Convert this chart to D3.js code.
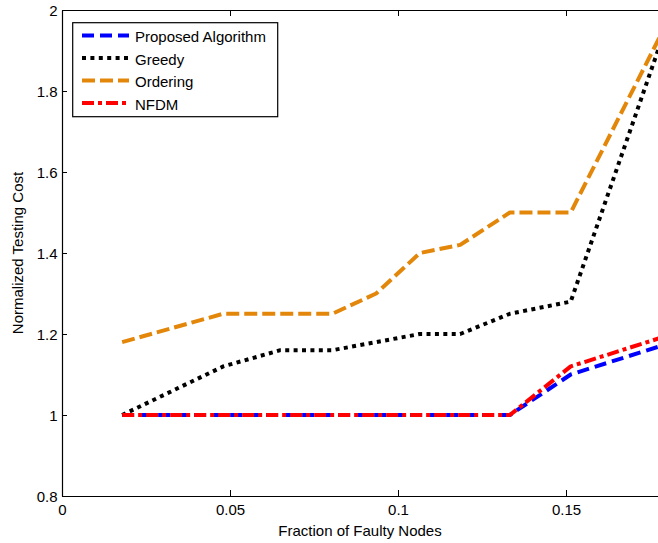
<!DOCTYPE html>
<html>
<head>
<meta charset="utf-8">
<script src="https://cdn.jsdelivr.net/npm/d3@7/dist/d3.min.js"></script>
<style>
  html, body { margin: 0; padding: 0; background: #fff; }
  svg { display: block; font-family: "Liberation Sans", Arial, Helvetica, sans-serif; }
</style>
</head>
<body>
<svg id="chart" width="658" height="543"></svg>
<script>
// ---- data ----
const fraction = [0.0179, 0.048, 0.065, 0.0805, 0.0935, 0.1065, 0.1185, 0.1333, 0.1514, 0.178];
const proposed = [1.00, 1.00, 1.00, 1.00, 1.00, 1.00, 1.00, 1.00, 1.10, 1.17];
const greedy   = [1.00, 1.12, 1.16, 1.16, 1.18, 1.20, 1.20, 1.25, 1.28, 1.915];
const ordering = [1.18, 1.25, 1.25, 1.25, 1.30, 1.40, 1.42, 1.50, 1.50, 1.935];
const nfdm     = [1.00, 1.00, 1.00, 1.00, 1.00, 1.00, 1.00, 1.00, 1.12, 1.19];
const seriesNames = ["Proposed Algorithm", "Greedy", "Ordering", "NFDM"];
const xTicks = [0, 0.05, 0.1, 0.15];
const xTickLabels = ["0", "0.05", "0.1", "0.15"];
const yTicks = [0.8, 1, 1.2, 1.4, 1.6, 1.8, 2];
const yTickLabels = ["0.8", "1", "1.2", "1.4", "1.6", "1.8", "2"];
const xLabel = "Fraction of Faulty Nodes";
const yLabel = "Normalized Testing Cost";

// ---- layout ----
const svg = d3.select("#chart");
const L = 62, T = 10, B = 496, R = 666.8;
const x = d3.scaleLinear().domain([0, 0.18]).range([L, R]);
const y = d3.scaleLinear().domain([0.8, 2]).range([B, T]);

const styles = [
  { color: "#0000ff", dash: "12,6" },
  { color: "#000000", dash: "4,4.4" },
  { color: "#e3870b", dash: "13,5" },
  { color: "#ff0000", dash: "12,4,4,4" }
];
const allSeries = [proposed, greedy, ordering, nfdm];

svg.append("defs").append("clipPath").attr("id", "plotclip")
  .append("rect").attr("x", L).attr("y", T).attr("width", R - L).attr("height", B - T);

// ---- series ----
const line = d3.line().x(d => x(d[0])).y(d => y(d[1]));
const g = svg.append("g").attr("clip-path", "url(#plotclip)");
allSeries.forEach((vals, i) => {
  g.append("path")
    .datum(fraction.map((f, k) => [f, vals[k]]))
    .attr("d", line)
    .attr("fill", "none")
    .attr("stroke", styles[i].color)
    .attr("stroke-width", 4)
    .attr("stroke-dasharray", styles[i].dash)
    .attr("stroke-linejoin", "round")
    .attr("stroke-linecap", "butt");
});

// ---- axes ----
const fs = 15;
const xAxis = d3.axisBottom(x).tickValues(xTicks)
  .tickFormat((d, i) => xTickLabels[i]).tickSize(-6).tickSizeOuter(0).tickPadding(8);
const gx = svg.append("g").attr("transform", `translate(0,${B})`).call(xAxis);

const xTop = d3.axisTop(x).tickValues(xTicks).tickFormat("").tickSize(-6).tickSizeOuter(0);
const gxt = svg.append("g").attr("transform", `translate(0,${T})`).call(xTop);

const yAxis = d3.axisLeft(y).tickValues(yTicks)
  .tickFormat((d, i) => yTickLabels[i]).tickSize(-5).tickSizeOuter(0).tickPadding(4.5);
const gy = svg.append("g").attr("transform", `translate(${L},0)`).call(yAxis);

const yRight = d3.axisRight(y).tickValues(yTicks).tickFormat("").tickSize(-5).tickSizeOuter(0);
const gyr = svg.append("g").attr("transform", `translate(${R},0)`).call(yRight);

[gx, gxt, gy, gyr].forEach(a => {
  a.selectAll(".domain").attr("stroke", "#000").attr("stroke-width", 1.2);
  a.selectAll(".tick line").attr("stroke", "#000").attr("stroke-width", 1);
  a.selectAll(".tick text").attr("font-size", fs).attr("fill", "#000")
    .attr("font-family", "'Liberation Sans', Arial, sans-serif");
});
gy.selectAll(".tick text").attr("dy", "0.36em");

// axis labels
svg.append("text").attr("x", 360).attr("y", 536)
  .attr("text-anchor", "middle").attr("font-size", fs).text(xLabel);
svg.append("text").attr("transform", `translate(23,${(T + B) / 2}) rotate(-90)`)
  .attr("text-anchor", "middle").attr("font-size", fs).text(yLabel);

// ---- legend ----
const lg = svg.append("g");
lg.append("rect").attr("x", 72.7).attr("y", 22.7).attr("width", 205).attr("height", 94)
  .attr("fill", "#fff").attr("stroke", "#000").attr("stroke-width", 1.2);
seriesNames.forEach((name, i) => {
  const yy = 35.5 + i * 22.5;
  lg.append("line").attr("x1", 82).attr("x2", 129).attr("y1", yy).attr("y2", yy)
    .attr("stroke", styles[i].color).attr("stroke-width", 4)
    .attr("stroke-dasharray", styles[i].dash);
  lg.append("text").attr("x", 135).attr("y", yy + 1.5).attr("dy", "0.35em")
    .attr("font-size", fs).attr("fill", "#000").text(name);
});
</script>
</body>
</html>
